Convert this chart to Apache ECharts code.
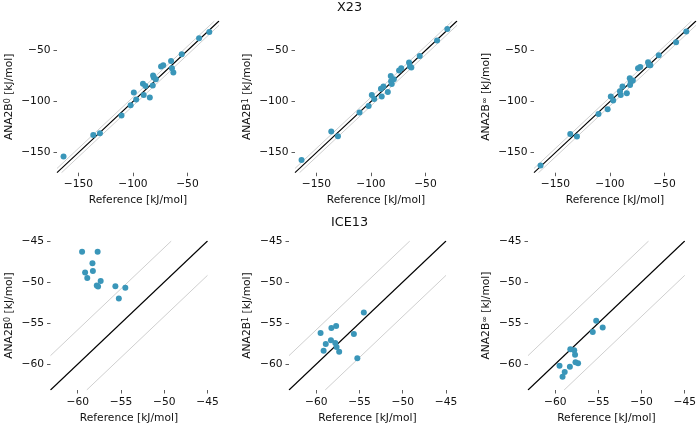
<!DOCTYPE html>
<html>
<head>
<meta charset="utf-8">
<script src="https://cdn.jsdelivr.net/npm/echarts@6/dist/echarts.min.js"></script>
<style>
html,body{margin:0;padding:0;background:#fff;}
#c{width:699px;height:425px;}
</style>
</head>
<body>
<div id="c"></div>
<script>
// ---- data ----
const x23Ref    = [-163.7,-136.4,-130.3,-110.5,-102.1,-99.2,-97.0,-90.8,-90.1,-88.5,-84.5,-81.8,-81.5,-80.9,-79.0,-74.2,-72.2,-65.0,-64.2,-62.9,-55.2,-39.3,-29.9];
const x23Ana0   = [-153.9,-132.7,-131.0,-113.7,-103.6,-91.2,-98.0,-82.4,-93.5,-84.6,-96.1,-84.3,-74.5,-76.5,-78.1,-65.7,-64.4,-60.1,-67.3,-71.6,-53.6,-37.9,-31.7];
const x23Ana1   = [-157.2,-129.4,-134.0,-110.8,-104.2,-93.5,-97.4,-87.3,-95.1,-85.3,-90.5,-74.8,-80.1,-82.7,-78.1,-69.6,-67.3,-61.8,-65.7,-66.7,-55.2,-40.2,-28.8];
const x23AnaInf = [-162.7,-131.7,-134.3,-112.1,-107.5,-95.1,-99.0,-89.9,-93.5,-85.3,-91.8,-77.1,-83.7,-80.5,-79.4,-67.3,-66.0,-61.4,-64.1,-64.4,-54.6,-41.8,-31.4];

const iceRef    = [-59.5,-59.15,-58.9,-58.3,-58.25,-57.8,-57.7,-57.65,-57.35,-55.65,-55.25,-54.5];
const iceAna0   = [-46.3,-48.85,-49.5,-47.7,-48.65,-50.43,-46.3,-50.55,-49.86,-50.5,-52.0,-50.7];
const iceAna1   = [-56.2,-58.37,-57.55,-57.1,-55.6,-57.43,-55.35,-57.92,-58.5,-56.33,-59.27,-53.72];
const iceAnaInf = [-60.2,-61.54,-60.97,-60.32,-58.18,-58.3,-58.86,-59.76,-59.88,-56.1,-54.7,-55.54];

const topTicks = [-150,-100,-50];
const bottomTicks = [-60,-55,-50,-45];
const topLim = [-169.7,-21];
const bottomLim = [-63.15,-45];
const band = 4.184; // 1 kcal/mol
const titles = ['X23','ICE13'];
const xName = 'Reference [kJ/mol]';
const modelSup = ['0','1','∞'];

// ---- layout ----
const FONT = 'DejaVu Sans';
const FS = 10.7;
const TXT = '#111';
const grids = [
  {left:57,   top:21,  width:162, height:151.7},
  {left:295,  top:21,  width:162, height:151.7},
  {left:534,  top:21,  width:162, height:151.7},
  {left:50.5, top:241, width:157, height:149},
  {left:289,  top:241, width:157, height:149},
  {left:528,  top:241, width:157, height:149}
];
const panels = [
  {ref:x23Ref, pred:x23Ana0,   lim:topLim, ticks:topTicks, sup:modelSup[0]},
  {ref:x23Ref, pred:x23Ana1,   lim:topLim, ticks:topTicks, sup:modelSup[1]},
  {ref:x23Ref, pred:x23AnaInf, lim:topLim, ticks:topTicks, sup:modelSup[2]},
  {ref:iceRef, pred:iceAna0,   lim:bottomLim, ticks:bottomTicks, sup:modelSup[0]},
  {ref:iceRef, pred:iceAna1,   lim:bottomLim, ticks:bottomTicks, sup:modelSup[1]},
  {ref:iceRef, pred:iceAnaInf, lim:bottomLim, ticks:bottomTicks, sup:modelSup[2]}
];

const fmt = v => String(v).replace('-', '\u2212');

function axis(i, p, isX) {
  const top = i < 3;
  return {
    type:'value', gridIndex:i, min:p.lim[0], max:p.lim[1],
    name: isX ? xName : '{a|ANA2B}{s|' + p.sup + '}{a| [kJ/mol]}',
    nameLocation:'middle',
    nameGap: isX ? 22.5 : (top ? 42 : 36),
    nameTextStyle: isX ? {fontFamily:FONT, fontSize:FS, color:TXT} : {
      fontFamily:FONT, fontSize:FS, color:TXT,
      rich:{
        a:{fontFamily:FONT, fontSize:FS, color:TXT, verticalAlign:'bottom'},
        s:{fontFamily:FONT, fontSize:8, color:TXT, verticalAlign:'top'}
      }
    },
    axisLine:{show:false},
    splitLine:{show:false},
    axisTick:{show:true, length:3.5, inside:false, lineStyle:{color:'#333', width:0.8}, customValues:p.ticks},
    axisLabel:{show:true, margin:6.5, fontFamily:FONT, fontSize:FS, color:TXT, formatter:fmt, customValues:p.ticks, showMinLabel:true, showMaxLabel:true},
    boundaryGap:false
  };
}

const xAxes = [], yAxes = [], series = [];
panels.forEach((p, i) => {
  xAxes.push(axis(i, p, true));
  yAxes.push(axis(i, p, false));
  const lo = p.lim[0], hi = p.lim[1];
  const lineBase = {type:'line', xAxisIndex:i, yAxisIndex:i, symbol:'none', silent:true, clip:true, animation:false};
  series.push(Object.assign({}, lineBase, {data:[[lo, lo + band],[hi - band, hi]], lineStyle:{color:'#cfcfcf', width:1}, z:1}));
  series.push(Object.assign({}, lineBase, {data:[[lo + band, lo],[hi, hi - band]], lineStyle:{color:'#cfcfcf', width:1}, z:1}));
  series.push(Object.assign({}, lineBase, {data:[[lo, lo],[hi, hi]], lineStyle:{color:'#000', width:1.1}, z:2}));
  series.push({
    type:'scatter', xAxisIndex:i, yAxisIndex:i, symbolSize:6, animation:false,
    itemStyle:{color:'#3a96b9', opacity:1},
    data:p.ref.map((r, k) => [r, p.pred[k]]), z:5
  });
});

const chart = echarts.init(document.getElementById('c'), null, {renderer:'canvas'});
chart.setOption({
  animation:false,
  backgroundColor:'#ffffff',
  title:[
    {text:titles[0], left:'center', top:1, padding:0, textStyle:{fontFamily:FONT, fontSize:12.8, fontWeight:'normal', color:TXT}},
    {text:titles[1], left:'center', top:216.5, padding:0, textStyle:{fontFamily:FONT, fontSize:12.8, fontWeight:'normal', color:TXT}}
  ],
  grid:grids,
  xAxis:xAxes,
  yAxis:yAxes,
  series:series
});
</script>
</body>
</html>
